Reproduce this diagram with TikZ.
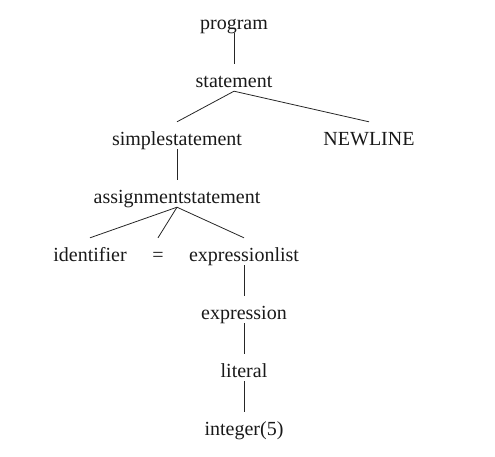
\documentclass[tikz,border=0pt]{standalone}
\usepackage{fontspec}
\setmainfont{Liberation Serif}
\usepackage{tikz}
\usetikzlibrary{positioning}
\tikzset{
  sym/.style={inner xsep=1pt, inner ysep=0pt, text height=23pt, text depth=4pt,
              font=\fontsize{20pt}{24pt}\selectfont, text=black!90},
  edge/.style={draw=black!85, line width=0.8pt},
}

\begin{document}
\begin{tikzpicture}[on grid, node distance=58pt]
\useasboundingbox (0,0) rectangle (495pt,-456pt);
%Nodes
\node[sym] (program) at (234pt,-19.5pt) {program};
\node[sym] (statement) [below=of program] {statement};
\node[sym] (simple) [below left=58pt and 57pt of statement] {simplestatement};
\node[sym] (newline) [below right=58pt and 135pt of statement] {NEWLINE};
\node[sym] (assign) [below=of simple] {assignmentstatement};
\node[sym] (ident) [below left=58pt and 87pt of assign] {identifier};
\node[sym] (equals) [below left=58pt and 19pt of assign] {=};
\node[sym] (exprlist) [below right=58pt and 67pt of assign] {expressionlist};
\node[sym] (expr) [below=of exprlist] {expression};
\node[sym] (literal) [below=of expr] {literal};
\node[sym] (integer) [below=of literal] {integer(5)};

%Lines
\draw[edge] (program.south) -- (statement.north);
\draw[edge] (statement.south) -- (simple.north);
\draw[edge] (statement.south) -- (newline.north);
\draw[edge] (simple.south) -- (assign.north);
\draw[edge] (assign.south) -- (ident.north);
\draw[edge] (assign.south) -- (equals.north);
\draw[edge] (assign.south) -- (exprlist.north);
\draw[edge] (exprlist.south) -- (expr.north);
\draw[edge] (expr.south) -- (literal.north);
\draw[edge] (literal.south) -- (integer.north);
\end{tikzpicture}
\end{document}
